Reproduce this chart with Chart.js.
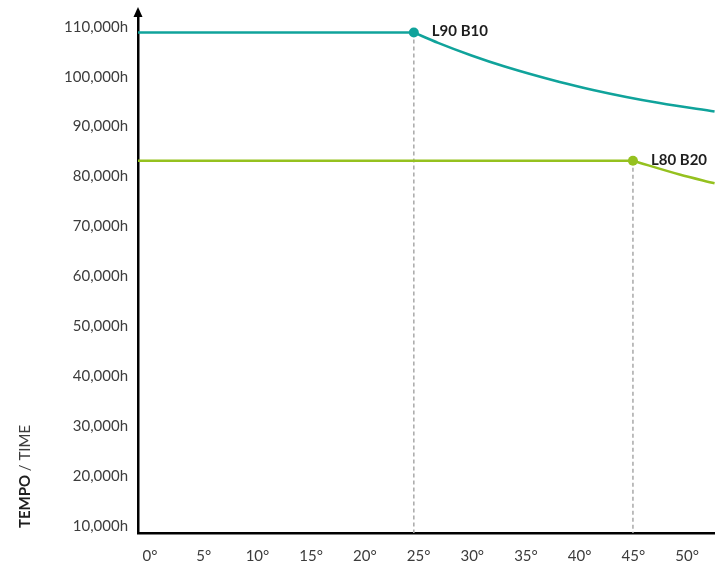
<!DOCTYPE html>
<html>
<head>
<meta charset="UTF-8">
<title>Tempo / Time</title>
<script src="https://cdn.jsdelivr.net/npm/chart.js"></script>
<style>
  body { margin: 0; background: #fff; }
  canvas { display: block; }
</style>
</head>
<body>
<canvas id="chart" width="715" height="573"></canvas>
<script>
// axis ticks
const xTicks = [0, 5, 10, 15, 20, 25, 30, 35, 40, 45, 50];
const yTicks = [10000, 20000, 30000, 40000, 50000, 60000, 70000, 80000, 90000, 100000, 110000];

// L90 B10 decay curve (starts at its marker)
const l90X = [24.56, 26.82, 29.93, 33.02, 38.14, 41.24, 44.34, 47.44, 52.56];
const l90Y = [108850, 106770, 104240, 102030, 98930, 97330, 95930, 94710, 93010];

// L80 B20 decay curve
const l80X = [44.96, 49.3, 52.56];
const l80Y = [83160, 80400, 78640];

// markers
const markerNames = ['L90 B10', 'L80 B20'];
const markerX = [24.56, 44.96];
const markerY = [108850, 83160];

const xMin = -1.12, xMax = 52.6;
const yMin = 8600, yMax = 112550;

const teal = '#10a39b';
const green = '#95c11f';
const colors = [teal, green];

const pts = (xs, ys) => xs.map((x, i) => ({ x: x, y: ys[i] }));

const datasets = [];
markerX.forEach((mx, i) => {
  // dashed drop line
  datasets.push({
    data: [{ x: mx, y: markerY[i] }, { x: mx, y: yMin }],
    borderColor: '#a8a8a8', borderWidth: 1.5, borderDash: [4, 3],
    pointRadius: 0, order: 3
  });
  // flat part
  datasets.push({
    data: [{ x: xMin, y: markerY[i] }, { x: mx, y: markerY[i] }],
    borderColor: colors[i], borderWidth: 2.5, pointRadius: 0, order: 2
  });
});
datasets.push({
  data: pts(l90X, l90Y), borderColor: teal, borderWidth: 2.5,
  pointRadius: 0, cubicInterpolationMode: 'monotone', order: 2
});
datasets.push({
  data: pts(l80X, l80Y), borderColor: green, borderWidth: 2.5,
  pointRadius: 0, cubicInterpolationMode: 'monotone', order: 2
});
datasets.push({
  type: 'scatter', data: pts(markerX, markerY), order: 1,
  pointRadius: 5, pointBackgroundColor: colors, pointBorderWidth: 0
});
const markerIndex = datasets.length - 1;

// extra drawing: arrow, marker labels, y title
const extras = {
  id: 'extras',
  afterDatasetsDraw(chart) {
    const ctx = chart.ctx;
    const area = chart.chartArea;
    ctx.save();
    // arrow on y axis
    ctx.fillStyle = '#000';
    ctx.beginPath();
    ctx.moveTo(area.left, area.top - 7);
    ctx.lineTo(area.left - 4.5, area.top + 3);
    ctx.lineTo(area.left + 4.5, area.top + 3);
    ctx.closePath();
    ctx.fill();

    // marker labels
    const meta = chart.getDatasetMeta(markerIndex);
    ctx.font = 'bold 15px Lato';
    ctx.fillStyle = '#1e1e1e';
    ctx.textBaseline = 'middle';
    meta.data.forEach((el, i) => {
      ctx.fillText(markerNames[i], el.x + 18, el.y - 1);
    });

    // y axis title: bold TEMPO + normal / TIME
    ctx.translate(25, 528);
    ctx.rotate(-Math.PI / 2);
    ctx.textBaseline = 'middle';
    ctx.font = 'bold 15px Lato';
    ctx.fillStyle = '#1e1e1e';
    ctx.fillText('TEMPO', 0, 0);
    const w = ctx.measureText('TEMPO ').width;
    ctx.font = '15px Lato';
    ctx.fillStyle = '#3c3c3c';
    ctx.fillText('/ TIME', w, 0);
    ctx.restore();
  }
};

new Chart(document.getElementById('chart'), {
  type: 'line',
  data: { datasets: datasets },
  options: {
    responsive: false,
    animation: false,
    layout: { autoPadding: false, padding: { top: 14, right: 0, left: 0, bottom: 0 } },
    plugins: { legend: { display: false }, tooltip: { enabled: false } },
    scales: {
      x: {
        type: 'linear', min: xMin, max: xMax,
        grid: { display: false, drawTicks: false },
        border: { color: '#000', width: 2.5 },
        afterBuildTicks: s => { s.ticks = xTicks.map(v => ({ value: v })); },
        afterFit: s => { s.height = 40; s.paddingLeft = 0; s.paddingRight = 0; },
        ticks: {
          autoSkip: false, maxRotation: 0, padding: 14,
          color: '#3c3c3c', font: { family: 'Lato', size: 15 },
          callback: v => v + '°'
        }
      },
      y: {
        min: yMin, max: yMax,
        grid: { display: false, drawTicks: false },
        border: { color: '#000', width: 2.5 },
        afterBuildTicks: s => { s.ticks = yTicks.map(v => ({ value: v })); },
        afterFit: s => { s.width = 138; s.paddingTop = 0; s.paddingBottom = 0; },
        ticks: {
          autoSkip: false, padding: 10,
          color: '#3c3c3c', font: { family: 'Lato', size: 15 },
          callback: v => v.toLocaleString('en-US') + 'h'
        }
      }
    }
  },
  plugins: [extras]
});
</script>
</body>
</html>
